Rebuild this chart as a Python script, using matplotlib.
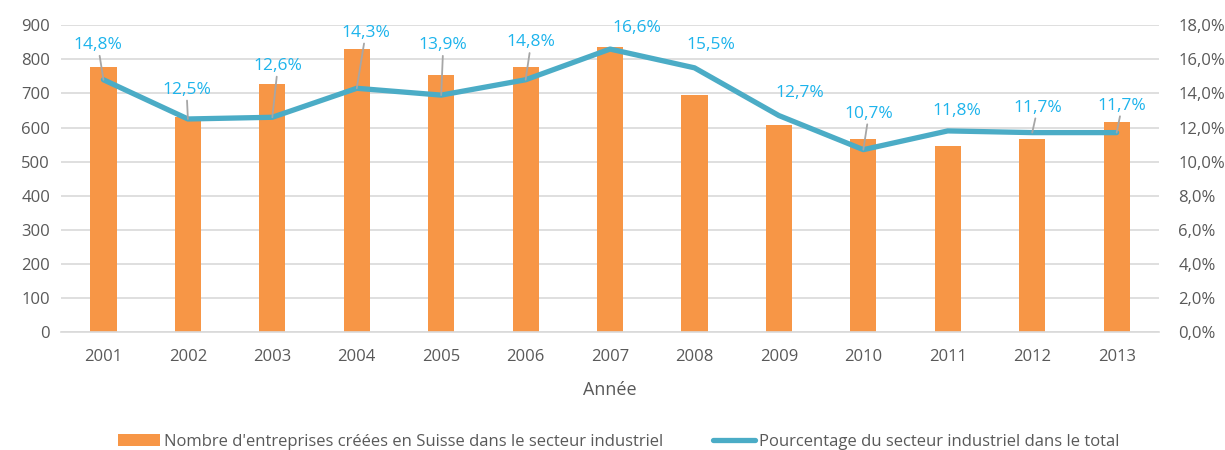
import numpy as np
import matplotlib
matplotlib.use("Agg")
import matplotlib.pyplot as plt
from matplotlib.ticker import FuncFormatter

plt.rcParams['font.family'] = ['Open Sans', 'DejaVu Sans']

# data
years = ['2001', '2002', '2003', '2004', '2005', '2006', '2007',
         '2008', '2009', '2010', '2011', '2012', '2013']
entreprises = [778, 630, 727, 830, 754, 778, 836, 695, 607, 566, 545, 566, 616]
pourcentage = [14.8, 12.5, 12.6, 14.3, 13.9, 14.8, 16.6, 15.5, 12.7, 10.7, 11.8, 11.7, 11.7]

# label offsets (points, text centre) and whether a leader line is drawn
label_offsets = [(-4, 25), (-1, 21), (4, 37), (6.5, 40), (1.5, 36), (4, 27), (19, 15),
                 (12, 16.5), (15, 16), (4, 26), (6.5, 14), (4, 18), (4, 19.5)]
leaders = [True, True, True, True, True, True, False,
           False, False, True, False, True, True]

bar_color = '#F79646'
line_color = '#4BACC6'
label_color = '#1EB4EC'
tick_color = '#595959'
grid_color = '#D9D9D9'

fig = plt.figure(figsize=(12.25, 4.5), dpi=100)
ax = fig.add_axes([0.05, 0.262, 0.896, 0.682])
ax2 = ax.twinx()

x = np.arange(len(years))
ax.bar(x, entreprises, width=0.31, color=bar_color, zorder=2,
       label="Nombre d'entreprises créées en Suisse dans le secteur industriel")
ax.set_ylim(0, 900)
ax.set_yticks(range(0, 901, 100))
ax.set_xlim(-0.5, len(years) - 0.5)
ax.set_xticks(x)
ax.set_xticklabels(years)
ax.yaxis.grid(True, color=grid_color, linewidth=1.2, zorder=0)
ax.set_axisbelow(True)
for s in ['top', 'right', 'left']:
    ax.spines[s].set_visible(False)
ax.spines['bottom'].set_color(grid_color)
ax.spines['bottom'].set_linewidth(1.2)
ax.tick_params(axis='y', length=0, colors=tick_color, labelsize=12, pad=8)
ax.tick_params(axis='x', length=0, colors=tick_color, labelsize=12, pad=12)
ax.set_xlabel('Année', color=tick_color, fontsize=13, labelpad=12)

ax2.plot(x, pourcentage, color=line_color, linewidth=3.8, solid_capstyle='round',
         label='Pourcentage du secteur industriel dans le total', zorder=3)
ax2.set_ylim(0, 18)
ax2.set_yticks(range(0, 19, 2))
ax2.yaxis.set_major_formatter(FuncFormatter(lambda v, p: f'{v:.1f}%'.replace('.', ',')))
for s in ['top', 'right', 'left', 'bottom']:
    ax2.spines[s].set_visible(False)
ax2.tick_params(axis='y', length=0, colors=tick_color, labelsize=12, pad=14)

for i, v in enumerate(pourcentage):
    txt = f'{v:.1f}%'.replace('.', ',')
    ap = dict(arrowstyle='-', color='#A6A6A6', lw=1.3, shrinkA=0, shrinkB=0) if leaders[i] else None
    ax2.annotate(txt, xy=(x[i], v), xytext=label_offsets[i], textcoords='offset points',
                 ha='center', va='center', color=label_color, fontsize=12.5,
                 arrowprops=ap, zorder=4)

h1, l1 = ax.get_legend_handles_labels()
h2, l2 = ax2.get_legend_handles_labels()
fig.legend(h1 + h2, l1 + l2, loc='center', bbox_to_anchor=(0.505, 0.018), ncol=2,
           frameon=False, fontsize=12, labelcolor=tick_color, columnspacing=3,
           handlelength=2.5, handletextpad=0.25)

fig.savefig('out.png', dpi=100)
